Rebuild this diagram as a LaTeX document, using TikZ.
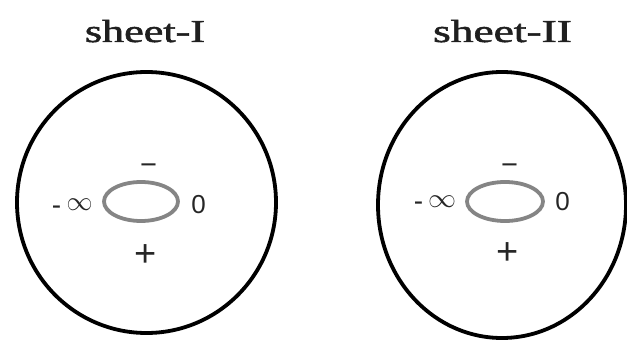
\documentclass[tikz,border=0pt]{standalone}
\usepackage{fontspec}
\setmainfont{Liberation Serif}
\newfontfamily\titlefont{Liberation Serif}[FakeBold=1.5]
\newfontfamily\lblfont{Liberation Sans}
\begin{document}
\begin{tikzpicture}[x=1pt,y=-1pt,
  titlestyle/.style={inner sep=0pt,anchor=base,font=\titlefont\fontsize{32}{34}\selectfont,text=black!88},
  lbl/.style={inner sep=0pt,anchor=base,font=\lblfont\fontsize{26}{28}\selectfont,text=black!85},
  sign/.style={lbl,font=\lblfont\fontsize{29}{30}\selectfont},
  plussign/.style={lbl,font=\lblfont\fontsize{38}{40}\selectfont},
  hyph/.style={lbl,font=\lblfont\fontsize{28}{30}\selectfont},
  infty/.style={inner sep=0pt,anchor=center,text=black!85},
  outer/.style={line width=3.8pt,black},
  inner/.style={line width=3.8pt,black!48}]
\useasboundingbox (0,0) rectangle (627,353);
\clip (0,0) rectangle (627,353);
% sheet I
\node[titlestyle] (t1) at (145,42) {\scalebox{1.38}[1]{sheet-I}};
\draw[outer] (146.5,202.5) ellipse [x radius=129.5, y radius=130.5];
\draw[inner] (141,201.5) ellipse [x radius=37, y radius=19.5];
\node[sign] (m1) at (148.5,174) {−};
\node[plussign] (p1) at (145.5,266.6) {+};
\node[hyph] (h1) at (56.5,214.4) {-};
\node[infty] (i1) at (79.5,205) {\scalebox{2.6}[2.7]{\fontsize{10}{10}\selectfont$\infty$}};
\node[lbl] (z1) at (198.5,213) {0};
% sheet II
\node[titlestyle] (t2) at (502.5,42) {\scalebox{1.42}[1]{sheet-II}};
\draw[outer] (502,205) ellipse [x radius=124, y radius=133];
\draw[inner] (505,201.5) ellipse [x radius=38, y radius=19.5];
\node[sign] (m2) at (509.5,174) {−};
\node[plussign] (p2) at (508,264.6) {+};
\node[hyph] (h2) at (418.5,210.4) {-};
\node[infty] (i2) at (442,201.5) {\scalebox{2.8}[2.7]{\fontsize{10}{10}\selectfont$\infty$}};
\node[lbl] (z2) at (562.5,210) {0};
\end{tikzpicture}
\end{document}
